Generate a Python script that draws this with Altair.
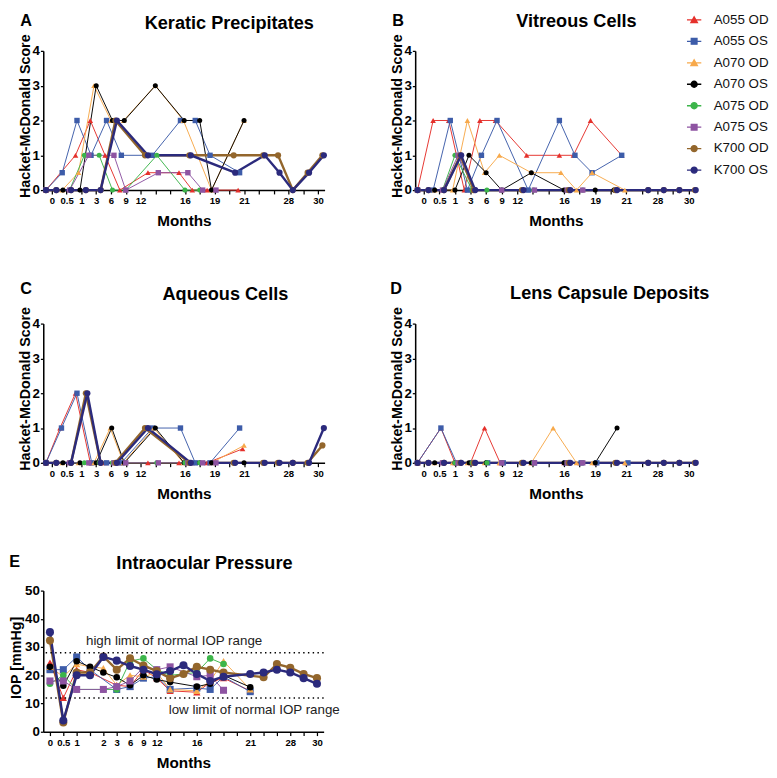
import altair as alt
import pandas as pd

FONT = "Liberation Sans"
SERIES = ["A055 OD", "A055 OS", "A070 OD", "A070 OS", "A075 OD", "A075 OS", "K700 OD", "K700 OS"]
COLORS = ["#e5302b", "#3d5ca9", "#f7a94b", "#000000", "#3cb54a", "#8e54a2", "#93662c", "#2b2a7c"]
SHAPES = ["triangle-up", "square", "triangle-up", "circle", "circle", "square", "circle", "circle"]
MSIZE = {"A055 OD": 34, "A055 OS": 32, "A070 OD": 34, "A070 OS": 28, "A075 OD": 28,
         "A075 OS": 32, "K700 OD": 42, "K700 OS": 42}
# legend glyphs: a short line with the series marker on it
LINE_TRI = "M-1,0H1M-0.45,0.38L0,-0.42L0.45,0.38Z"
LINE_SQR = "M-1,0H1M-0.4,-0.4H0.4V0.4H-0.4Z"
LINE_CIR = "M-1,0H1M0.42,0A0.42,0.42,0,1,1,-0.42,0A0.42,0.42,0,1,1,0.42,0Z"
LEG_SHAPES = [LINE_TRI, LINE_SQR, LINE_TRI, LINE_CIR, LINE_CIR, LINE_SQR, LINE_CIR, LINE_CIR]

# ---------------- Panel A: Keratic Precipitates ----------------
KP_POS = {
    "A055 OD": [-0.4, 1.6, 2.6, 3.6, 4.6, 6.5, 8.6, 9.5, 10.5, 12.6],
    "A055 OS": [-0.4, 0.7, 1.7, 2.65, 3.7, 4.7, 6.8, 8.7, 9.7, 10.7, 12.7],
    "A070 OD": [-0.4, 0.7, 1.8, 2.85, 4.0, 4.85, 7.0, 8.9, 10.8, 13.0],
    "A070 OS": [-0.4, 0.75, 1.9, 3.0, 4.1, 4.9, 7.0, 8.95, 10.0, 10.8, 13.0],
    "A075 OD": [-0.4, 1.2, 2.2, 3.2, 4.1, 5.0, 7.1, 9.0, 10.0],
    "A075 OS": [-0.4, 1.2, 2.5, 4.2, 5.0, 7.2, 9.2, 10.2, 11.1],
    "K700 OD": [-0.4, 0.3, 1.3, 2.3, 3.3, 4.3, 6.3, 9.3, 12.3, 14.3, 15.3, 16.3, 17.3, 18.3],
    "K700 OS": [-0.4, 0.3, 1.3, 2.3, 3.3, 4.4, 6.5, 9.4, 12.4, 14.4, 15.4, 16.3, 17.4, 18.4],
}
KP_VAL = {
    "A055 OD": [0, 1, 2, 1, 0, 0.5, 0.5, 0, 0, 0],
    "A055 OS": [0, 0.5, 2, 1, 2, 1, 1, 2, 2, 1, 0.5],
    "A070 OD": [0, 0, 0.5, 3, 2, 2, 3, 2, 0, 2],
    "A070 OS": [0, 0, 0, 3, 2, 2, 3, 2, 2, 0, 2],
    "A075 OD": [0, 0, 1, 1, 0, 0, 1, 0, 0],
    "A075 OS": [0, 0, 1, 1, 0, 0.5, 0.5, 0, 0],
    "K700 OD": [0, 0, 0, 0, 0, 2, 1, 1, 1, 1, 1, 0, 0.5, 1],
    "K700 OS": [0, 0, 0, 0, 0, 2, 1, 1, 0.5, 1, 0.5, 0, 0.5, 1],
}

# ---------------- Panel B: Vitreous Cells ----------------
VC_POS = {
    "A055 OD": [-0.4, 0.6, 1.6, 2.6, 3.6, 4.6, 6.6, 8.7, 9.6, 10.7, 12.7],
    "A055 OS": [-0.4, 0.6, 1.7, 2.8, 3.7, 4.7, 6.7, 8.7, 9.7, 10.8, 12.7],
    "A070 OD": [-0.4, 0.7, 1.85, 2.8, 3.9, 4.85, 6.9, 8.8, 9.8, 10.8, 12.9],
    "A070 OS": [-0.4, 0.7, 2.0, 2.9, 4.0, 5.0, 6.9, 9.0, 11.0, 12.2],
    "A075 OD": [-0.4, 1.2, 2.0, 3.1, 4.05, 5.0, 7.05, 9.2, 10.2],
    "A075 OS": [-0.4, 1.2, 2.2, 3.25, 5.0, 7.1, 9.2, 10.2],
    "K700 OD": [-0.4, 0.3, 1.3, 2.35, 3.2, 6.3, 9.3, 12.3, 14.4, 15.4, 16.4, 17.4],
    "K700 OS": [-0.4, 0.3, 1.3, 2.4, 3.3, 6.4, 9.4, 12.4, 14.4, 15.4, 16.4, 17.45],
}
VC_VAL = {
    "A055 OD": [0, 2, 2, 0, 2, 2, 1, 1, 1, 2, 1],
    "A055 OS": [0, 0, 2, 0, 1, 2, 0, 2, 1, 0.5, 1],
    "A070 OD": [0, 0, 0, 2, 0.5, 1, 0.5, 0.5, 0, 0.5, 0],
    "A070 OS": [0, 0, 0, 1, 0.5, 0, 0.5, 0, 0, 0],
    "A075 OD": [0, 0, 1, 0, 0, 0, 0, 0, 0],
    "A075 OS": [0, 0, 1, 0, 0, 0, 0, 0],
    "K700 OD": [0, 0, 0, 1, 0, 0, 0, 0, 0, 0, 0, 0],
    "K700 OS": [0, 0, 0, 1, 0, 0, 0, 0, 0, 0, 0, 0],
}

# ---------------- Panel C: Aqueous Cells ----------------
AC_POS = {
    "A055 OD": [-0.4, 0.55, 1.6, 2.6, 3.6, 4.6, 6.5, 8.6, 9.5, 10.5, 12.9],
    "A055 OS": [-0.4, 0.65, 1.7, 2.7, 3.7, 4.7, 6.8, 8.7, 9.7, 10.7, 12.7],
    "A070 OD": [-0.4, 0.7, 1.8, 2.85, 3.95, 4.85, 6.9, 8.9, 10.8, 13.0],
    "A070 OS": [-0.4, 0.75, 1.9, 3.0, 4.05, 4.9, 7.0, 8.95, 10.0, 10.8, 13.0],
    "A075 OD": [-0.4, 1.2, 2.2, 3.2, 4.1, 5.0, 7.1, 9.0, 10.0],
    "A075 OS": [-0.4, 1.2, 2.5, 4.2, 5.0, 7.2, 9.2, 10.2, 11.1],
    "K700 OD": [-0.4, 0.3, 1.3, 2.3, 3.3, 4.3, 6.3, 9.3, 12.3, 14.3, 15.3, 16.3, 17.3, 18.3],
    "K700 OS": [-0.4, 0.3, 1.3, 2.4, 3.3, 4.4, 6.5, 9.4, 12.4, 14.4, 15.4, 16.3, 17.4, 18.4],
}
AC_VAL = {
    "A055 OD": [0, 1, 2, 0, 0, 0, 0, 0, 0, 0, 0.4],
    "A055 OS": [0, 1, 2, 0, 0, 0, 1, 1, 0, 0, 1],
    "A070 OD": [0, 0, 0, 0, 1, 0, 1, 0, 0, 0.5],
    "A070 OS": [0, 0, 0, 0, 1, 0, 1, 0, 0, 0, 0],
    "A075 OD": [0, 0, 0, 0, 0, 0, 0, 0, 0],
    "A075 OS": [0, 0, 0, 0, 0, 0, 0, 0, 0],
    "K700 OD": [0, 0, 0, 2, 0, 0, 1, 0, 0, 0, 0, 0, 0, 0.5],
    "K700 OS": [0, 0, 0, 2, 0, 0, 1, 0, 0, 0, 0, 0, 0, 1],
}

# ---------------- Panel D: Lens Capsule Deposits ----------------
LC_POS = {
    "A055 OD": [-0.4, 1.1, 2.0, 3.0, 3.9, 4.9, 6.9, 9.0, 10.0, 11.0, 13.0],
    "A055 OS": [-0.4, 1.1, 2.1, 3.1, 4.1, 5.1, 7.1, 9.1, 10.1, 11.1, 13.1],
    "A070 OD": [-0.4, 0.7, 1.85, 2.8, 3.9, 4.85, 6.9, 8.3, 9.8, 10.8, 12.9],
    "A070 OS": [-0.4, 0.7, 2.0, 2.9, 4.0, 5.0, 6.9, 9.0, 11.0, 12.4],
    "A075 OD": [-0.4, 1.2, 2.0, 3.1, 4.05, 5.0, 7.05, 9.2, 10.2],
    "A075 OS": [-0.4, 1.2, 2.2, 3.25, 5.0, 7.1, 9.2, 10.2],
    "K700 OD": [-0.4, 0.3, 1.3, 2.35, 3.2, 6.3, 9.3, 12.3, 14.4, 15.4, 16.4, 17.4],
    "K700 OS": [-0.4, 0.3, 1.3, 2.4, 3.3, 6.4, 9.4, 12.4, 14.4, 15.4, 16.4, 17.45],
}
LC_VAL = {
    "A055 OD": [0, 1, 0, 0, 1, 0, 0, 0, 0, 0, 0],
    "A055 OS": [0, 1, 0, 0, 0, 0, 0, 0, 0, 0, 0],
    "A070 OD": [0, 0, 0, 0, 0, 0, 0, 1, 0, 0, 0],
    "A070 OS": [0, 0, 0, 0, 0, 0, 0, 0, 0, 1],
    "A075 OD": [0, 0, 0, 0, 0, 0, 0, 0, 0],
    "A075 OS": [0, 0, 0, 0, 0, 0, 0, 0],
    "K700 OD": [0, 0, 0, 0, 0, 0, 0, 0, 0, 0, 0, 0],
    "K700 OS": [0, 0, 0, 0, 0, 0, 0, 0, 0, 0, 0, 0],
}

# ---------------- Panel E: Intraocular Pressure ----------------
IOP_POS = {
    "A055 OD": [0, 1, 2, 3, 5, 6, 7, 8, 9, 11, 12, 13, 15],
    "A055 OS": [0, 1, 2, 3, 5, 6, 7, 8, 9, 11, 12, 13, 15],
    "A070 OD": [0, 1, 2, 3, 4, 5, 6, 7, 8, 9, 11, 12, 13, 15],
    "A070 OS": [0, 1, 2, 3, 4, 5, 6, 7, 8, 9, 11, 12, 13, 15],
    "A075 OD": [0, 1, 2, 4, 5, 6, 7, 8, 9, 11, 12, 13],
    "A075 OS": [0, 1, 2, 4, 5, 6, 7, 8, 9, 11, 12, 13],
    "K700 OD": [0, 1, 2, 3, 4, 5, 6, 7, 8, 9, 10, 11, 12, 13, 16, 17, 18, 19, 20],
    "K700 OS": [0, 1, 2, 3, 4, 5, 6, 7, 8, 9, 10, 11, 12, 13, 15, 16, 17, 18, 19, 20],
}
IOP_VAL = {
    "A055 OD": [24.5, 12, 22, 21, 16.5, 16, 22, 19, 14.5, 14, 17.5, 19, 14.5],
    "A055 OS": [22, 22, 26.5, 22, 15, 16, 19, 19.5, 15, 15.5, 15, 19.5, 14.2],
    "A070 OD": [23, 19.5, 24, 23, 22.5, 16.5, 20, 19.5, 21, 15, 14.5, 18, 25, 15],
    "A070 OS": [23, 16.3, 25, 23, 21, 19.3, 16.5, 20, 18.5, 17.6, 16, 17, 20, 15.8],
    "A075 OD": [17, 20, 15, 15, 15, 25, 26, 22, 20, 21, 26, 24],
    "A075 OS": [18, 18, 15, 15, 16, 18, 22.8, 22, 23, 19.5, 20, 14.7],
    "K700 OD": [32.3, 3.3, 21, 21, 26.7, 22, 26, 23.5, 21.5, 19, 20.5, 23, 22, 21, 19.3, 24, 22.7, 20.5, 19],
    "K700 OS": [35.3, 4, 20, 20, 26.5, 25.2, 23.3, 22, 20.4, 21.5, 23.6, 20.5, 18, 19.5, 20.5, 21, 22, 21, 19, 17],
}
IOP_LIMITS = [28, 12]
IOP_NOTES = [("high limit of normal IOP range", 9.3, 32.1), ("low limit of normal IOP range", 15.3, 7.8)]

AC_TICKS = {0: "0", 1: "0.5", 2: "1", 3: "3", 4: "6", 5: "9", 6: "12", 9: "16", 11: "19", 13: "21", 16: "28", 18: "30"}
BD_TICKS = {0: "0", 1: "0.5", 2: "1", 3: "3", 4: "6", 5: "9", 6: "12", 9: "16", 11: "19", 13: "21", 15: "28", 17: "30"}
E_TICKS = {0: "0", 1: "0.5", 2: "1", 4: "2", 5: "3", 6: "6", 7: "9", 8: "12", 11: "16", 15: "21", 18: "28", 20: "30"}

# legend placement, relative to panel B's plot area
LEG_X = 284
LEG_Y = -41


def label_expr(d):
    parts = [f"datum.value == {k} ? '{v}'" for k, v in d.items()]
    return " : ".join(parts) + " : ''"


def frame(pos_d, val_d, mscale):
    rows = []
    for s in SERIES:
        for p, v in zip(pos_d[s], val_d[s]):
            rows.append({"series": s, "pos": p, "val": v,
                         "sw": 2.5 if s.startswith("K700") else 1.0,
                         "msz": MSIZE[s] * mscale})
    return pd.DataFrame(rows)


def text_layer(txt, x, y, size):
    return alt.Chart(pd.DataFrame({"t": [txt]})).mark_text(
        font=FONT, fontSize=size, fontWeight="bold", align="center", baseline="middle", color="black"
    ).encode(text="t:N", x=alt.value(x), y=alt.value(y))


LEGEND = alt.Legend(orient="none", legendX=LEG_X, legendY=LEG_Y, title=None, symbolSize=225,
                    symbolStrokeWidth=1.4, labelFont=FONT, labelFontSize=14, labelColor="#111111",
                    rowPadding=6.5, labelOffset=12)


def panel(df, xdom, ticks, nticks, ydom, yvals, ytitle, ytx, yty, w, h, title, tpos, letter, lpos,
          refs=(), notes=(), legend=False):
    xaxis = alt.Axis(values=list(range(nticks)), labelExpr=label_expr(ticks), labelFont=FONT,
                     labelFontSize=10, labelFontWeight="bold", labelColor="black", labelPadding=2,
                     labelOverlap=False, labelFlush=False, tickColor="black", tickSize=4, tickWidth=1.3,
                     domainColor="black", domainWidth=1.6, grid=False, title="Months", titleFont=FONT,
                     titleFontSize=16, titleFontWeight="bold", titleColor="black", titlePadding=8)
    yaxis = alt.Axis(values=yvals, labelFont=FONT, labelFontSize=14, labelFontWeight="bold",
                     labelColor="black", labelPadding=1, labelOverlap=False, tickColor="black", tickSize=3,
                     tickWidth=1.3, domainColor="black", domainWidth=1.6, grid=False, title=ytitle,
                     titleFont=FONT, titleFontSize=15, titleFontWeight="bold", titleColor="black",
                     titleX=ytx, titleY=yty, titleBaseline="bottom", titleAngle=270)
    xscale = alt.Scale(domain=xdom, nice=False, zero=False)
    yscale = alt.Scale(domain=ydom, nice=False, zero=False)
    xenc = alt.X("pos:Q", scale=xscale, axis=xaxis)
    yenc = alt.Y("val:Q", scale=yscale, axis=yaxis)
    base = alt.Chart(df)
    lines = base.mark_line().encode(
        x=xenc, y=yenc,
        stroke=alt.Stroke("series:N", scale=alt.Scale(domain=SERIES, range=COLORS), legend=None),
        strokeWidth=alt.StrokeWidth("sw:Q", scale=None),
        order=alt.Order("pos:Q"),
    )
    points = base.mark_point(filled=True, opacity=1).encode(
        x=xenc, y=yenc,
        color=alt.Color("series:N", scale=alt.Scale(domain=SERIES, range=COLORS), legend=None),
        shape=alt.Shape("series:N", scale=alt.Scale(domain=SERIES, range=SHAPES), legend=None),
        size=alt.Size("msz:Q", scale=None),
    )
    one = pd.DataFrame({"k": [0]})
    layers = [lines, points]
    for v in refs:
        layers.append(alt.Chart(one).mark_rule(color="black", strokeDash=[1.5, 3.5], strokeWidth=1.6)
                      .encode(y=alt.Y(datum=v, scale=yscale, axis=yaxis)))
    for txt, nx, ny in notes:
        layers.append(alt.Chart(one).mark_text(text=txt, font=FONT, fontSize=14, color="#222222",
                                               align="center", baseline="middle")
                      .encode(x=alt.X(datum=nx, scale=xscale, axis=xaxis),
                              y=alt.Y(datum=ny, scale=yscale, axis=yaxis)))
    layers += [text_layer(title, tpos[0], tpos[1], 19), text_layer(letter, lpos[0], lpos[1], 17)]
    if legend:
        # legend carrier: draws nothing, only provides the key (line + marker per series)
        key = base.transform_filter("false").mark_point(filled=True, opacity=1).encode(
            x=xenc, y=yenc,
            fill=alt.Fill("series:N", scale=alt.Scale(domain=SERIES, range=COLORS), legend=LEGEND),
            stroke=alt.Stroke("series:N", scale=alt.Scale(domain=SERIES, range=COLORS), legend=LEGEND),
            shape=alt.Shape("series:N", scale=alt.Scale(domain=SERIES, range=LEG_SHAPES), legend=LEGEND),
        )
        layers.append(key)
        return alt.layer(*layers).resolve_scale(
            stroke="independent", shape="independent", color="independent", fill="independent"
        ).properties(width=w, height=h)
    return alt.layer(*layers).properties(width=w, height=h)


A = panel(frame(KP_POS, KP_VAL, 1.0), [-0.58, 18.45], AC_TICKS, 19, [0, 4], [0, 1, 2, 3, 4],
          "Hacket-McDonald Score", -11, 68, 295, 146, "Keratic Precipitates", (195, -29), "A", (-18, -31))
B = panel(frame(VC_POS, VC_VAL, 1.0), [-0.55, 17.5], BD_TICKS, 18, [0, 4], [0, 1, 2, 3, 4],
          "Hacket-McDonald Score", -11, 68, 295, 146, "Vitreous Cells", (169, -31), "B", (-18, -31),
          legend=True)
C = panel(frame(AC_POS, AC_VAL, 1.0), [-0.58, 18.45], AC_TICKS, 19, [0, 4], [0, 1, 2, 3, 4],
          "Hacket-McDonald Score", -11, 68, 295, 146, "Aqueous Cells", (191, -31), "C", (-18, -36))
D = panel(frame(LC_POS, LC_VAL, 1.0), [-0.55, 17.5], BD_TICKS, 18, [0, 4], [0, 1, 2, 3, 4],
          "Hacket-McDonald Score", -11, 68, 295, 146, "Lens Capsule Deposits", (204, -32), "D", (-20, -36))
E = panel(frame(IOP_POS, IOP_VAL, 1.7), [-0.5, 20.5], E_TICKS, 21, [0, 50], [0, 10, 20, 30, 40, 50],
          "IOP [mmHg]", -21, 70, 294, 148, "Intraocular Pressure", (169, -29), "E", (-30, -30),
          refs=IOP_LIMITS, notes=IOP_NOTES)


def build(pad):
    return alt.concat(A, B, C, D, E, columns=2, spacing={"row": 55, "column": 51},
                      align={"row": "each", "column": "none"}).resolve_scale(
        stroke="independent", color="independent", shape="independent", fill="independent").properties(
        padding=pad, background="white").configure_view(stroke=None)


try:
    chart = build({"top": -15, "left": 0, "right": 0, "bottom": 0})
    chart.to_dict()
except Exception:
    chart = build(0)

chart.save("out.html", embed_options={"renderer": "svg", "actions": False})
